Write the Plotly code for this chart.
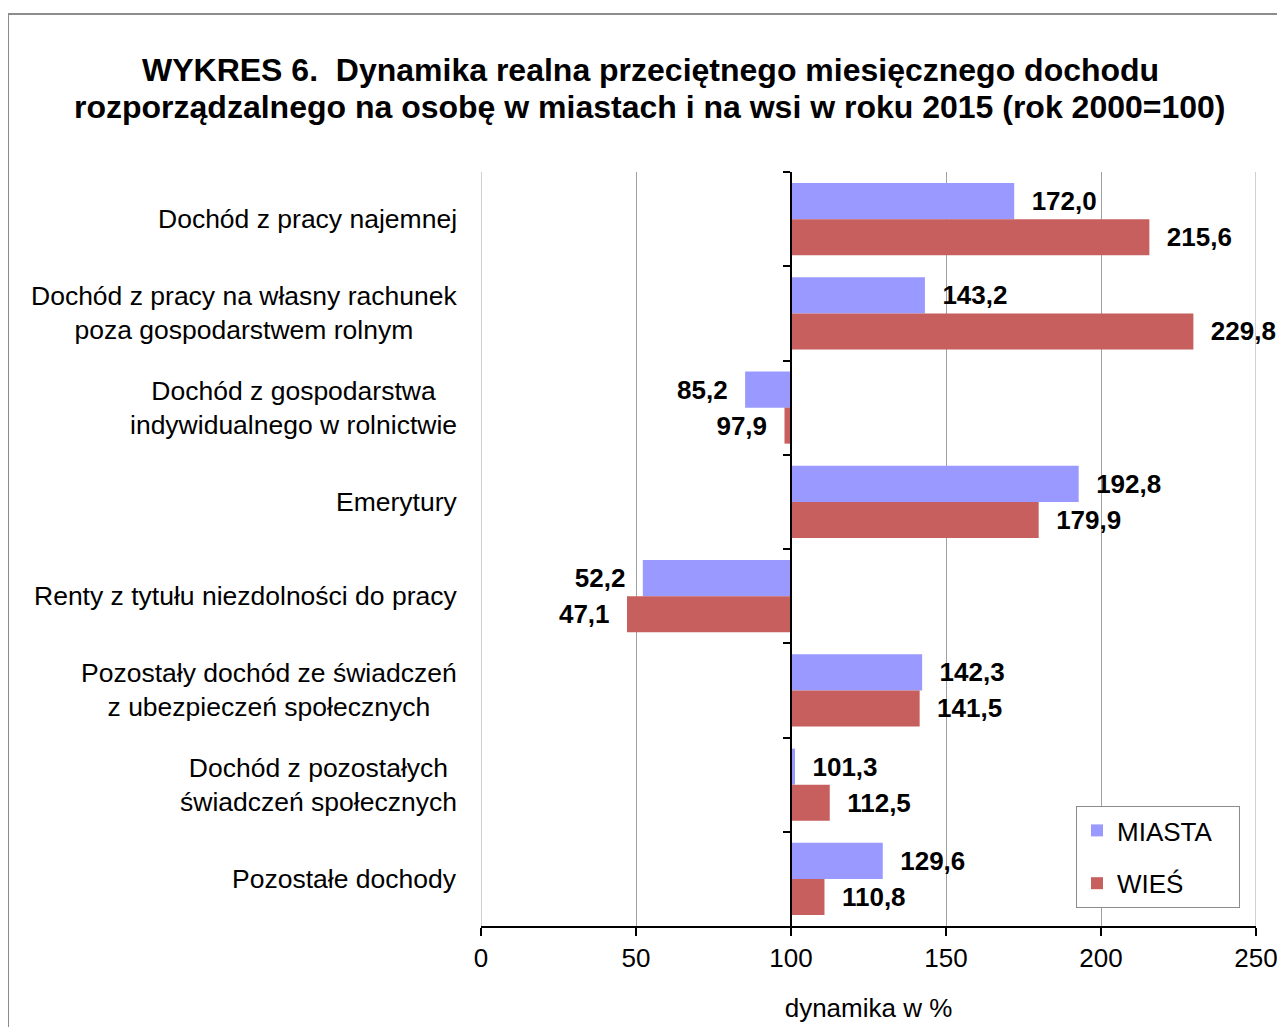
import plotly.graph_objects as go

categories = [
    "Dochód z pracy najemnej",
    "Dochód z pracy na własny rachunek<br>poza gospodarstwem rolnym",
    "Dochód z gospodarstwa<br>indywidualnego w rolnictwie",
    "Emerytury",
    "Renty z tytułu niezdolności do pracy",
    "Pozostały dochód ze świadczeń<br>z ubezpieczeń społecznych",
    "Dochód z pozostałych<br>świadczeń społecznych",
    "Pozostałe dochody",
]
miasta = [172.0, 143.2, 85.2, 192.8, 52.2, 142.3, 101.3, 129.6]
wies = [215.6, 229.8, 97.9, 179.9, 47.1, 141.5, 112.5, 110.8]
x_ticks = [0, 50, 100, 150, 200, 250]
BASE = 100
title_lines = [
    "WYKRES 6.  Dynamika realna przeciętnego miesięcznego dochodu",
    "rozporządzalnego na osobę w miastach i na wsi w roku 2015 (rok 2000=100)",
]

FONT = "Liberation Sans, Arial, sans-serif"
NB = "\u00a0\u00a0"

# page is offset by the default 8px body margin
OFF = 8
W, H = 1285 - OFF, 1027 - OFF
PL, PR, PT, PB = 481 - OFF, 1256 - OFF, 172 - OFF, 926 - OFF
pw, ph = PR - PL, PB - PT


def px_x(p):
    return (p - OFF - PL) / pw


def px_y(p):
    return (PB - (p - OFF)) / ph


def fmt(v):
    s = f"{v:.1f}".replace(".", ",")
    return NB + s if v >= BASE else s + NB


fig = go.Figure()
for name, vals, color in [("MIASTA", miasta, "#9999FF"), ("WIEŚ", wies, "#C65F5D")]:
    fig.add_trace(go.Bar(
        name=name + "\u00a0\u00a0\u00a0",
        y=categories,
        x=[v - BASE for v in vals],
        base=BASE,
        orientation="h",
        marker=dict(color=color, line=dict(width=0)),
        text=[fmt(v) for v in vals],
        textposition="outside",
        textfont=dict(family=FONT, size=26, color="black", weight="bold"),
        constraintext="none",
        cliponaxis=False,
        legendgroup=name,
    ))

annotations = []
for c in categories:
    annotations.append(dict(
        xref="paper", yref="y", x=0, y=c, xanchor="right", yanchor="middle",
        xshift=-22, text=c, showarrow=False, align="center",
        font=dict(family=FONT, size=26.5, color="black"),
    ))
for line, py in zip(title_lines, [70, 107]):
    annotations.append(dict(
        xref="paper", yref="paper", x=px_x(650), y=px_y(py),
        xanchor="center", yanchor="middle", text="<b>" + line + "</b>",
        showarrow=False, font=dict(family=FONT, size=32, color="black"),
    ))

shapes = [dict(
    type="rect", xref="paper", yref="paper",
    x0=px_x(8), x1=px_x(1500),
    y0=px_y(1200), y1=px_y(14),
    line=dict(color="#8C8C8C", width=2), fillcolor="rgba(0,0,0,0)", layer="below",
)]
for t in (x_ticks[0], x_ticks[-1]):
    shapes.append(dict(
        type="line", xref="x", yref="paper", x0=t, x1=t, y0=0, y1=1,
        line=dict(color="#A0A0A0", width=1), layer="below",
    ))

fig.update_layout(
    width=W, height=H,
    margin=dict(l=PL, r=W - PR, t=PT, b=H - PB, autoexpand=False),
    paper_bgcolor="white", plot_bgcolor="white",
    barmode="group", bargap=0.236, bargroupgap=0,
    font=dict(family=FONT, size=26, color="black"),
    xaxis=dict(
        range=[0, 250], tickvals=x_ticks, showgrid=True, gridcolor="#A0A0A0", gridwidth=1,
        zeroline=False, showline=True, linecolor="black", linewidth=2,
        ticks="outside", ticklen=8, tickcolor="black", tickwidth=2,
        tickfont=dict(family=FONT, size=26, color="black"),
        title=dict(text="dynamika w %", font=dict(family=FONT, size=26, color="black"), standoff=27),
    ),
    yaxis=dict(
        autorange="reversed", anchor="free", position=(BASE - 0) / 250,
        showticklabels=False, showgrid=False, zeroline=False,
        showline=True, linecolor="black", linewidth=2,
        ticks="outside", tickson="boundaries", ticklen=7, tickcolor="black", tickwidth=2,
    ),
    legend=dict(
        x=px_x(1076), y=px_y(806), xanchor="left", yanchor="top",
        bgcolor="white", bordercolor="#8C8C8C", borderwidth=1,
        font=dict(family=FONT, size=26, color="black"),
        traceorder="grouped", tracegroupgap=16,
    ),
    annotations=annotations,
    shapes=shapes,
)

fig.write_html("out.html")
